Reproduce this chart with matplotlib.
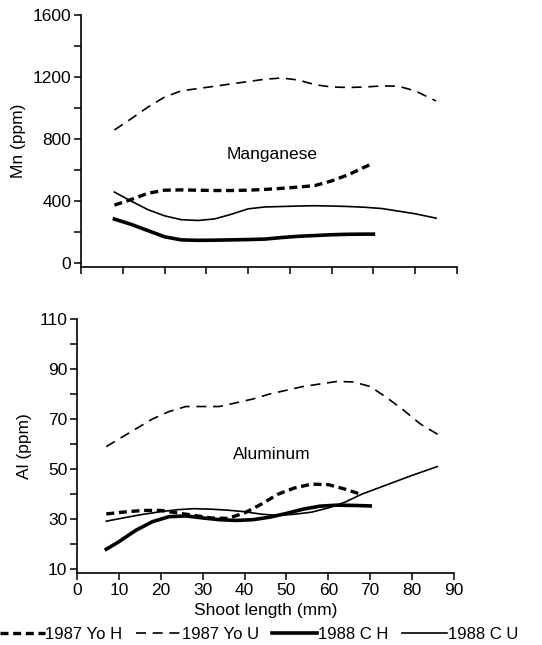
import numpy as np
import matplotlib
matplotlib.use("Agg")
import matplotlib.pyplot as plt

plt.rcParams['font.family'] = ['Liberation Sans', 'DejaVu Sans']
plt.rcParams['font.size'] = 12.5

# Manganese (ppm) vs shoot length (mm)
mn_yoh_x = [8, 12, 16, 20, 24, 28, 32, 36, 40, 44, 48, 52, 56, 60, 64, 68, 70]
mn_yoh_y = [374, 410, 450, 470, 472, 470, 468, 468, 470, 475, 482, 490, 500, 530, 570, 620, 645]
mn_you_x = [8, 12, 16, 20, 24, 28, 32, 36, 40, 44, 48, 52, 56, 60, 64, 68, 72, 76, 80, 85]
mn_you_y = [858, 930, 1005, 1070, 1110, 1125, 1140, 1155, 1170, 1185, 1193, 1180, 1150, 1135,
            1132, 1135, 1142, 1140, 1110, 1045]
mn_ch_x = [8, 12, 16, 20, 24, 28, 32, 36, 40, 44, 48, 52, 56, 60, 64, 68, 70]
mn_ch_y = [284, 250, 210, 170, 150, 147, 148, 150, 152, 155, 165, 173, 178, 183, 186, 187, 187]
mn_cu_x = [8, 12, 16, 20, 24, 28, 32, 36, 40, 44, 48, 52, 56, 60, 64, 68, 72, 76, 80, 85]
mn_cu_y = [458, 400, 345, 305, 280, 275, 285, 315, 350, 362, 365, 368, 370, 368, 365, 360,
           352, 335, 318, 290]

# Aluminum (ppm) vs shoot length (mm)
al_yoh_x = [7, 12, 16, 20, 24, 28, 32, 36, 40, 44, 48, 52, 56, 60, 64, 68]
al_yoh_y = [32.1, 33, 33.5, 33.5, 32.5, 31.5, 30.5, 30.3, 32.5, 36, 40, 42.5, 44, 43.8, 42, 39.8]
al_you_x = [7, 10, 14, 18, 22, 26, 30, 34, 38, 42, 46, 50, 54, 58, 62, 66, 70, 74, 78, 82, 87]
al_you_y = [59, 62, 66, 70, 73, 75, 75, 75, 76.5, 78, 80, 81.5, 83, 84, 85, 84.8, 83, 78.5,
            73.5, 68, 63]
al_ch_x = [7, 10, 14, 18, 22, 26, 30, 34, 38, 42, 46, 50, 54, 58, 62, 66, 70]
al_ch_y = [18, 21, 25.5, 29, 31, 31.3, 30.5, 29.8, 29.5, 29.8, 30.8, 32.3, 34, 35.2, 35.6, 35.5, 35.3]
al_cu_x = [7, 12, 16, 20, 24, 28, 32, 36, 40, 44, 48, 52, 56, 60, 64, 68, 72, 76, 80, 86]
al_cu_y = [29.2, 30.8, 32, 33, 33.8, 34.2, 34, 33.6, 33, 32, 31.5, 32, 32.8, 34.5, 36.8, 40,
           42.5, 45, 47.5, 51]

labels = ["1987 Yo H", "1987 Yo U", "1988 C H", "1988 C U"]

thick_dash = dict(color='black', lw=2.4, linestyle=(0, (2.4, 1.4)))
thin_dash = dict(color='black', lw=1.2, linestyle=(0, (6, 4)))
thick_solid = dict(color='black', lw=2.6, linestyle='-')
thin_solid = dict(color='black', lw=1.2, linestyle='-')

fig = plt.figure(figsize=(5.42, 6.45), dpi=100)
ax1 = fig.add_axes([0.1494, 0.586, 0.6937, 0.391])
ax2 = fig.add_axes([0.142, 0.1116, 0.6956, 0.394])


def style(ax):
    for s in ['top', 'right']:
        ax.spines[s].set_visible(False)
    ax.spines['left'].set_linewidth(1.2)
    ax.spines['bottom'].set_linewidth(1.2)
    ax.tick_params(which='both', direction='out', length=5, width=1.1, labelsize=12.5, pad=2)
    ax.set_xlim(0, 90)
    ax.set_xticks(np.arange(0, 91, 10))


ax1.plot(mn_yoh_x, mn_yoh_y, **thick_dash)
ax1.plot(mn_you_x, mn_you_y, **thin_dash)
ax1.plot(mn_ch_x, mn_ch_y, **thick_solid)
ax1.plot(mn_cu_x, mn_cu_y, **thin_solid)
style(ax1)
ax1.set_ylim(-25, 1600)
ax1.set_yticks([0, 400, 800, 1200, 1600])
ax1.set_yticks(np.arange(200, 1600, 400), minor=True)
ax1.tick_params(axis='x', labelbottom=False)
ax1.set_ylabel("Mn (ppm)", fontsize=12.5, labelpad=5)
ax1.text(45.7, 703, "Manganese", ha='center', va='center', fontsize=12.5)

ax2.plot(al_yoh_x, al_yoh_y, label=labels[0], **thick_dash)
ax2.plot(al_you_x, al_you_y, label=labels[1], **thin_dash)
ax2.plot(al_ch_x, al_ch_y, label=labels[2], **thick_solid)
ax2.plot(al_cu_x, al_cu_y, label=labels[3], **thin_solid)
style(ax2)
ax2.set_ylim(8.5, 110)
ax2.set_yticks([10, 30, 50, 70, 90, 110])
ax2.set_yticks(np.arange(20, 110, 20), minor=True)
ax2.set_ylabel("Al (ppm)", fontsize=12.5, labelpad=5)
ax2.set_xlabel("Shoot length (mm)", fontsize=12.5, labelpad=4)
ax2.text(46.5, 55.9, "Aluminum", ha='center', va='center', fontsize=12.5)

fig.legend(loc='lower left', bbox_to_anchor=(-0.013, -0.005), ncol=4, frameon=False,
           fontsize=12, handlelength=2.7, handletextpad=0.05, columnspacing=0.8,
           borderaxespad=0)

fig.savefig("out.png", dpi=100)
